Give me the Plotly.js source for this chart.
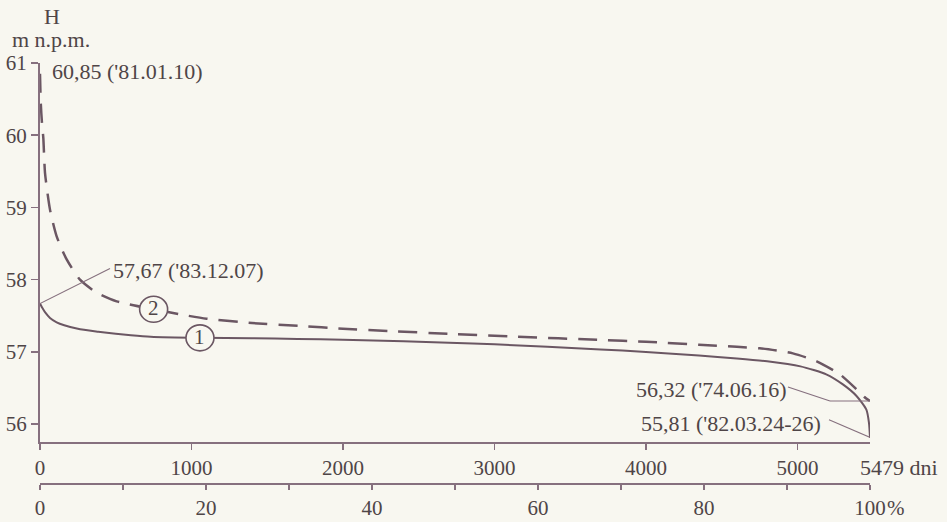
<!DOCTYPE html>
<html>
<head>
<meta charset="utf-8">
<script src="https://cdn.plot.ly/plotly-3.0.1.min.js"></script>
<style>
  html, body { margin: 0; padding: 0; background: #f8f7f0; }
  #chart { width: 947px; height: 522px; }
</style>
</head>
<body>
<div id="chart"></div>
<script>
// Krzywe czasu trwania stanów wody H [m n.p.m.] w okresie 5479 dni
// (1) linia ciągła, (2) linia przerywana

const totalDays = 5479;

const days1 = [0, 15, 33, 66, 110, 160, 250, 385, 500, 600, 730, 1056, 1400, 1700, 2000, 2400, 2700, 3000,
               3700, 4000, 4350, 4600, 4800, 5020, 5190, 5300, 5390, 5455, 5472, 5479];
const levels1 = [57.67, 57.61, 57.55, 57.47, 57.41, 57.37, 57.32, 57.28, 57.25, 57.23, 57.21, 57.195, 57.19, 57.18, 57.168, 57.147, 57.127, 57.105,
                 57.035, 57.00, 56.95, 56.91, 56.87, 56.80, 56.69, 56.55, 56.39, 56.20, 56.02, 55.81];

const days2 = [0, 5, 13, 22, 33, 66, 110, 176, 264, 374, 506, 750, 924, 1100, 1400, 1716, 2000, 2300,
               2700, 3150, 3700, 4000, 4350, 4600, 4750, 4970, 5127, 5280, 5391, 5440, 5479];
const levels2 = [60.85, 60.45, 60.17, 59.96, 59.48, 58.97, 58.60, 58.28, 58.00, 57.82, 57.70, 57.59, 57.52, 57.46, 57.40, 57.36, 57.32, 57.29,
                 57.25, 57.21, 57.165, 57.14, 57.10, 57.07, 57.05, 56.98, 56.87, 56.69, 56.48, 56.38, 56.32];

const dayTicks = [0, 1000, 2000, 3000, 4000, 5000];
const levelTicks = [56, 57, 58, 59, 60, 61];
const pctTicks = [0, 10, 20, 30, 40, 50, 60, 70, 80, 90, 100];
const pctLabels = ['0', '', '20', '', '40', '', '60', '', '80', '', '100'];

// where the circled curve numbers sit along each curve
const curveNames = ['1', '2'];
const nameDays = [1056, 750];

const bg = '#f8f7f0';
const ink = '#4f4547';
const lineCol = '#6b5763';
const axisCol = '#86707e';
const font = 'Liberation Serif, Times New Roman, serif';

function levelAt(days, levels, d) {
  for (let i = 1; i < days.length; i++) {
    if (d <= days[i]) {
      const t = (d - days[i - 1]) / (days[i] - days[i - 1]);
      return levels[i - 1] + t * (levels[i] - levels[i - 1]);
    }
  }
  return levels[levels.length - 1];
}

const traces = [
  { x: days1, y: levels1, mode: 'lines', xaxis: 'x', yaxis: 'y',
    line: { color: lineCol, width: 2, shape: 'spline', smoothing: 0.6 }, hoverinfo: 'skip' },
  { x: days2, y: levels2, mode: 'lines', xaxis: 'x', yaxis: 'y',
    line: { color: lineCol, width: 2.5, dash: '19px,11px', shape: 'spline', smoothing: 0.6 }, hoverinfo: 'skip' },
  // carries the percentage axis
  { x: pctTicks, y: pctTicks.map(() => null), mode: 'lines', xaxis: 'x2', yaxis: 'y', hoverinfo: 'skip' }
];

const tickFont = { family: font, size: 21, color: ink };
const noteFont = { family: font, size: 22, color: ink };

const seriesDays = [days1, days2];
const seriesLevels = [levels1, levels2];

const shapes = [];
const annotations = [];

curveNames.forEach((name, i) => {
  const d = nameDays[i];
  const v = levelAt(seriesDays[i], seriesLevels[i], d);
  shapes.push({ type: 'circle', xref: 'x', yref: 'y', xsizemode: 'pixel', ysizemode: 'pixel',
    xanchor: d, yanchor: v, x0: -14, x1: 14, y0: -13, y1: 13,
    fillcolor: bg, line: { color: lineCol, width: 1.6 }, layer: 'above' });
  annotations.push({ x: d, y: v, xref: 'x', yref: 'y', text: name, showarrow: false,
    font: { family: font, size: 21, color: ink }, xanchor: 'center', yanchor: 'middle', yshift: 1 });
});

function leader(xa, ya, x0, y0, x1, y1) {
  shapes.push({ type: 'line', xref: 'x', yref: 'y', xsizemode: 'pixel', ysizemode: 'pixel',
    xanchor: xa, yanchor: ya, x0: x0, y0: y0, x1: x1, y1: y1,
    line: { color: axisCol, width: 1.1 }, layer: 'above' });
}

const top2 = levels2[0], low2 = levels2[levels2.length - 1];
const top1 = levels1[0], low1 = levels1[levels1.length - 1];

leader(0, top1, 0, 0, 70, 35);
leader(totalDays, low2, -40, 0, 5, 0);
leader(totalDays, low2, -40, 0, -82, 14);
leader(totalDays, low1, 1, 0, -41, 18);

function note(text, x, y, xanchor, xshift, yshift) {
  annotations.push({ x: x, y: y, xref: 'x', yref: 'y', text: text, showarrow: false,
    xanchor: xanchor, yanchor: 'middle', xshift: xshift, yshift: yshift, borderpad: 0,
    font: noteFont });
}

note("60,85 ('81.01.10)", 0, top2, 'left', 11, 2);
note("57,67 ('83.12.07)", 0, top1, 'left', 72, 33);
note("56,32 ('74.06.16)", totalDays, low2, 'right', -82, 12);
note("55,81 ('82.03.24-26)", totalDays, low1, 'right', -48, 14);

annotations.push(
  { xref: 'paper', yref: 'paper', x: 0.0145, y: 1.111, text: 'H', showarrow: false,
    xanchor: 'center', yanchor: 'middle', font: noteFont },
  { xref: 'paper', yref: 'paper', x: 0.0133, y: 1.056, text: 'm n.p.m.', showarrow: false,
    xanchor: 'center', yanchor: 'middle', font: noteFont },
  { xref: 'x', yref: 'paper', x: totalDays, y: 0.040, text: totalDays + ' dni', showarrow: false,
    xanchor: 'left', xshift: -11, yanchor: 'middle', borderpad: 0, font: noteFont },
  { xref: 'x2', yref: 'paper', x: 100, y: -0.058, text: '%', showarrow: false,
    xanchor: 'left', xshift: 16, yanchor: 'middle', borderpad: 0, font: tickFont }
);

const layout = {
  width: 947, height: 522,
  margin: { l: 40, r: 77, t: 63, b: 38, pad: 0 },
  paper_bgcolor: bg, plot_bgcolor: bg,
  showlegend: false,
  xaxis: {
    range: [0, totalDays], anchor: 'y', tickmode: 'array', tickvals: dayTicks,
    ticks: 'outside', ticklen: 6, tickwidth: 1.5, tickcolor: axisCol,
    showline: true, linecolor: axisCol, linewidth: 2,
    showgrid: false, zeroline: false, tickfont: tickFont, fixedrange: true
  },
  xaxis2: {
    range: [0, 100], overlaying: 'x', anchor: 'free', position: 0, side: 'bottom',
    tickmode: 'array', tickvals: pctTicks, ticktext: pctLabels,
    ticks: 'outside', ticklen: 5, tickwidth: 1.5, tickcolor: axisCol,
    showline: true, linecolor: axisCol, linewidth: 2,
    showgrid: false, zeroline: false, tickfont: tickFont, fixedrange: true
  },
  yaxis: {
    range: [55.75, 61], domain: [0.0993, 1], tickmode: 'array', tickvals: levelTicks,
    ticks: 'outside', ticklen: 7, tickwidth: 1.5, tickcolor: axisCol,
    showline: true, linecolor: axisCol, linewidth: 2,
    showgrid: false, zeroline: false, tickfont: tickFont, fixedrange: true
  },
  shapes: shapes,
  annotations: annotations
};

Plotly.newPlot('chart', traces, layout, { displayModeBar: false, staticPlot: true });
</script>
</body>
</html>
